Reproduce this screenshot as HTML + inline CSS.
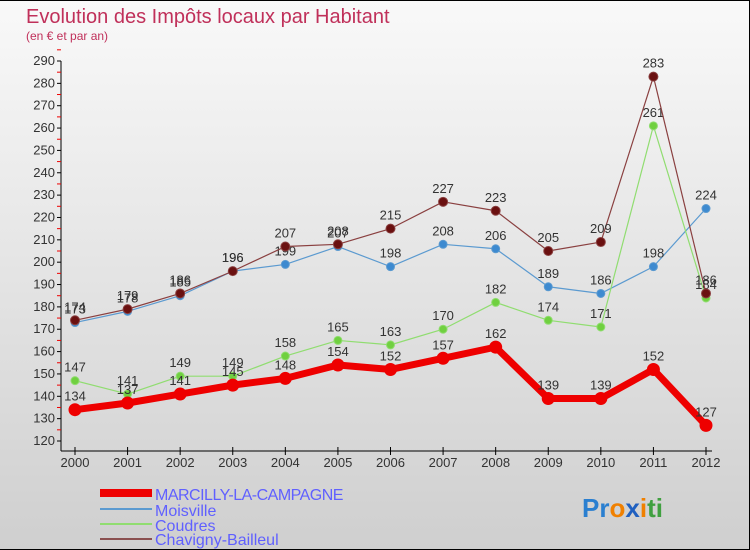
<!DOCTYPE html>
<html><head><meta charset="utf-8"><style>
body{margin:0;}
#c{width:750px;height:550px;position:relative;overflow:hidden;font-family:"Liberation Sans",sans-serif;background:linear-gradient(#f9f9f9,#cfcfcf);box-sizing:border-box;border:1px solid #000;border-left:0}
</style></head><body>
<div id="c">
<svg id="s" width="750" height="550" style="position:absolute;left:0;top:0">
<text x="26" y="22" font-size="20" fill="#c0305a">Evolution des Impôts locaux par Habitant</text>
<text x="26" y="39" font-size="12" fill="#c0305a">(en € et par an)</text>
<g id="axes"></g><g id="series"></g>
<g font-size="16" fill="#6060ff">
<rect x="100" y="488" width="52" height="8" fill="#ee0000"/>
<text x="155" y="499" style="letter-spacing:-0.5px">MARCILLY-LA-CAMPAGNE</text>
<rect x="100" y="507" width="52" height="2" fill="#5b9ad0"/>
<text x="155" y="515">Moisville</text>
<rect x="100" y="522" width="52" height="2" fill="#90dd70"/>
<text x="155" y="530">Coudres</text>
<rect x="100" y="537" width="52" height="2" fill="#8a5050"/>
<text x="155" y="544">Chavigny-Bailleul</text>
</g>
<text x="582" y="516" font-size="26" font-weight="bold"><tspan fill="#2a7fd0">Pr</tspan><tspan fill="#f08000">o</tspan><tspan fill="#2060c0">x</tspan><tspan fill="#f08000">i</tspan><tspan fill="#40a040">ti</tspan></text>
</svg>
</div>
<script>
const years=["2000","2001","2002","2003","2004","2005","2006","2007","2008","2009","2010","2011","2012"];
const yTicks=[120,130,140,150,160,170,180,190,200,210,220,230,240,250,260,270,280,290];
const marcilly=[134,137,141,145,148,154,152,157,162,139,139,152,127];
const moisville=[173,178,185,196,199,207,198,208,206,189,186,198,224];
const coudres=[147,141,149,149,158,165,163,170,182,174,171,261,184];
const chavigny=[174,179,186,196,207,208,215,227,223,205,209,283,186];
const NS="http://www.w3.org/2000/svg";
const X=i=>75+i*(706-75)/12;
const Y=v=>440-(v-120)*(380/170);
function mk(t,a,p){const e=document.createElementNS(NS,t);for(const k in a)e.setAttribute(k,a[k]);p.appendChild(e);return e;}
const ax=document.getElementById('axes');
let l=mk('line',{x1:61,y1:60,x2:61,y2:450,stroke:'#000'},ax);


l=mk('line',{x1:61,y1:450,x2:712,y2:450,stroke:'#000'},ax);


yTicks.forEach(v=>{
  mk('line',{x1:57,y1:Y(v),x2:61,y2:Y(v),stroke:'#000'},ax);
  mk('line',{x1:57,y1:Y(v+5),x2:61,y2:Y(v+5),stroke:'#e00'},ax);
  const t=mk('text',{x:55,y:Y(v)+4,'font-size':13,'text-anchor':'end',fill:'#333'},ax);
  t.textContent=v;
  
  
});
years.forEach((y,i)=>{
  mk('line',{x1:X(i),y1:446,x2:X(i),y2:454,stroke:'#000'},ax);
  const t=mk('text',{x:X(i),y:466,'font-size':13,'text-anchor':'middle',fill:'#333'},ax);
  t.textContent=y;
  
  
});
const sg=document.getElementById('series');
function draw(data,name,color,fill,w,r){
  const g=mk('g',{},sg);
  
  
  const p=mk('polyline',{points:data.map((v,i)=>X(i)+','+Y(v)).join(' '),fill:'none',stroke:color,'stroke-width':w,'stroke-linejoin':'round'},g);
  
  
  data.forEach((v,i)=>{
    const c=mk('circle',{cx:X(i),cy:Y(v),r:r,fill:fill,stroke:color,'stroke-width':1},g);
    
    
    const t=mk('text',{x:X(i),y:Y(v)-9,'font-size':13,'text-anchor':'middle',fill:'#333'},g);
    t.textContent=v;
    
    
  });
}
draw(moisville,'moisville','#5b9ad0','#3d8ad0',1.2,4);
draw(coudres,'coudres','#90dd70','#70d040',1.2,4);
draw(chavigny,'chavigny','#8a4040','#6a1010',1.2,4.5);
draw(marcilly,'marcilly','#ee0000','#ee0000',7,6);
</script>
</body></html>
